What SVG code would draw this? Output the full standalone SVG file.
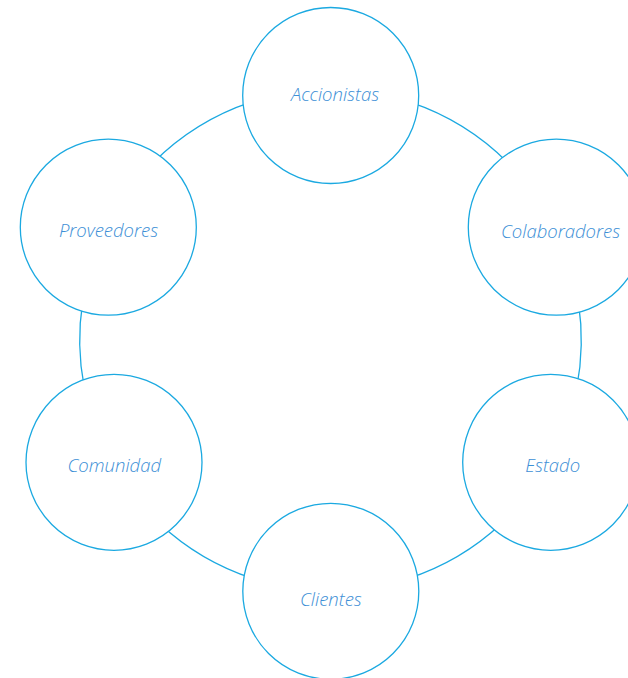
<svg xmlns="http://www.w3.org/2000/svg" width="628" height="678" viewBox="0 0 628 678">
<style>
.ring{fill:none;stroke:#1ba9e1;stroke-width:1.3}
.node{fill:#ffffff;stroke:#1ba9e1;stroke-width:1.3}
.lbl{font-family:"Open Sans","Liberation Sans",sans-serif;font-style:italic;font-weight:300;font-size:18.5px;fill:#3d8fd6;text-anchor:middle}
</style>
<rect width="628" height="678" fill="#ffffff"/>
<g id="connectors">
<path class="ring" d="M410.1,102.2 A250.8,250.8 0 0 1 507.8,162.7"/>
<path class="ring" d="M578.5,302.9 A250.8,250.8 0 0 1 576.7,387.9"/>
<path class="ring" d="M501.5,523.4 A250.8,250.8 0 0 1 408.0,578.5"/>
<path class="ring" d="M253.0,578.5 A250.8,250.8 0 0 1 159.5,523.4"/>
<path class="ring" d="M84.3,387.9 A250.8,250.8 0 0 1 82.8,300.8"/>
<path class="ring" d="M153.2,162.7 A250.8,250.8 0 0 1 250.9,102.2"/>
</g>
<g id="accionistas">
<circle class="node" cx="330.7" cy="95.5" r="88"/>
<text class="lbl" x="335" y="100.5">Accionistas</text>
</g>
<g id="proveedores">
<circle class="node" cx="108.3" cy="227.2" r="88"/>
<text class="lbl" x="108.5" y="237.3">Proveedores</text>
</g>
<g id="colaboradores">
<circle class="node" cx="556.3" cy="227.2" r="88"/>
<text class="lbl" x="560.5" y="238.3">Colaboradores</text>
</g>
<g id="comunidad">
<circle class="node" cx="114" cy="462.3" r="88"/>
<text class="lbl" x="114.2" y="472.3">Comunidad</text>
</g>
<g id="estado">
<circle class="node" cx="550.7" cy="462.3" r="88"/>
<text class="lbl" x="552.7" y="472.3">Estado</text>
</g>
<g id="clientes">
<circle class="node" cx="330.8" cy="591.3" r="88"/>
<text class="lbl" x="330.8" y="606">Clientes</text>
</g>
</svg>
